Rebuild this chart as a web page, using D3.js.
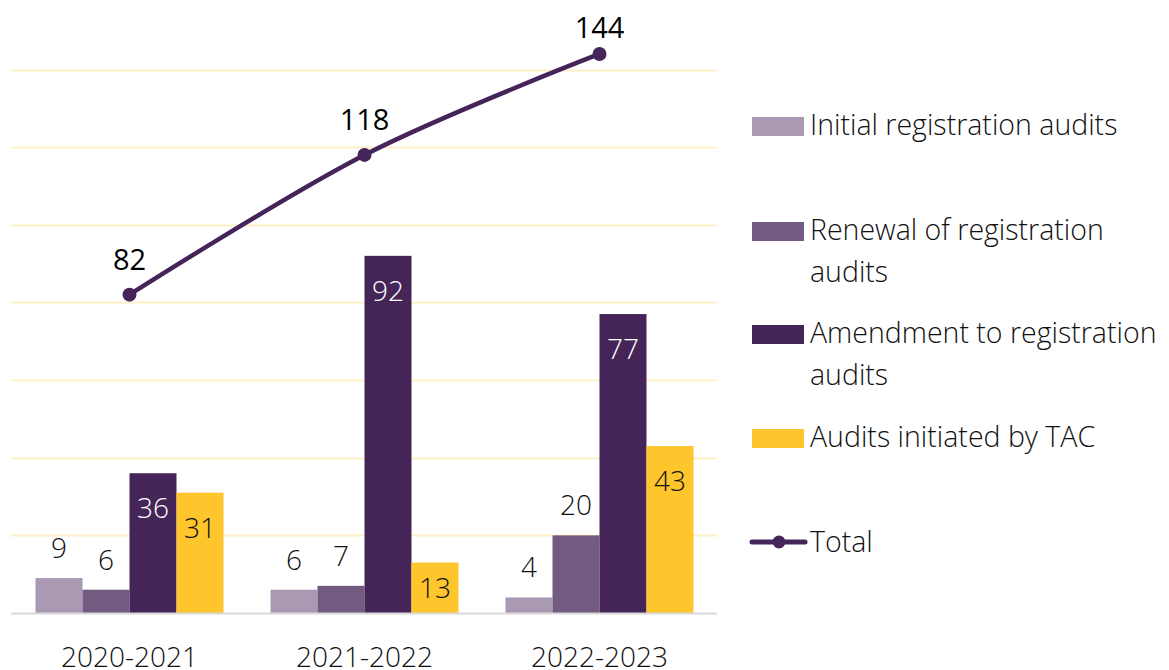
<!DOCTYPE html>
<html>
<head>
<meta charset="utf-8">
<script src="https://cdn.jsdelivr.net/npm/d3@7"></script>
<style>
  html, body { margin: 0; padding: 0; background: #ffffff; }
  svg { display: block; font-family: "Open Sans", "Noto Sans", sans-serif; }
</style>
</head>
<body>
<svg id="chart" width="1169" height="670"></svg>
<script>
// Audit counts per financial year
const years = ["2020-2021", "2021-2022", "2022-2023"];
const seriesNames = [
  "Initial registration audits",
  "Renewal of registration audits",
  "Amendment to registration audits",
  "Audits initiated by TAC"
];
const initialAudits   = [9, 6, 4];
const renewalAudits   = [6, 7, 20];
const amendmentAudits = [36, 92, 77];
const tacAudits       = [31, 13, 43];
const totalAudits     = [82, 118, 144];
const gridTicks       = [20, 40, 60, 80, 100, 120, 140];

const seriesValues = [initialAudits, renewalAudits, amendmentAudits, tacAudits];
const colors = ["#a999b2", "#735a81", "#452457", "#ffc52c"];
const labelInside = [false, false, true, true];
const labelColor = ["#111", "#111", "#ffffff", "#111"];
const lineColor = "#45245a";

const svg = d3.select("#chart");

const plot = { left: 12, right: 717, top: 69.5, bottom: 613 };

const x0 = d3.scaleBand()
  .domain(years)
  .range([plot.left, plot.right])
  .paddingInner(0.2)
  .paddingOuter(0.1);

const x1 = d3.scaleBand()
  .domain(d3.range(seriesNames.length))
  .range([0, x0.bandwidth()])
  .padding(0);

const y = d3.scaleLinear()
  .domain([0, 140])
  .range([plot.bottom, plot.top]);

// gridlines
svg.append("g")
  .selectAll("line")
  .data(gridTicks)
  .join("line")
  .attr("x1", plot.left - 1)
  .attr("x2", plot.right)
  .attr("y1", d => Math.round(y(d)) + 0.5)
  .attr("y2", d => Math.round(y(d)) + 0.5)
  .attr("stroke", "#fdefc6")
  .attr("stroke-width", 2);

// bars
const rows = [];
years.forEach((yr, i) => {
  seriesValues.forEach((vals, s) => rows.push({ year: yr, s, v: vals[i] }));
});

svg.append("g")
  .selectAll("rect")
  .data(rows)
  .join("rect")
  .attr("x", d => x0(d.year) + x1(d.s))
  .attr("y", d => y(d.v))
  .attr("width", x1.bandwidth())
  .attr("height", d => y(0) - y(d.v))
  .attr("fill", d => colors[d.s]);

// baseline axis
svg.append("line")
  .attr("x1", plot.left - 1)
  .attr("x2", plot.right)
  .attr("y1", plot.bottom + 0.5)
  .attr("y2", plot.bottom + 0.5)
  .attr("stroke", "#d9d9d9")
  .attr("stroke-width", 2);

// bar value labels
svg.append("g")
  .selectAll("text")
  .data(rows)
  .join("text")
  .attr("x", d => x0(d.year) + x1(d.s) + x1.bandwidth() / 2)
  .attr("y", d => {
    const top = y(d.v);
    const h = y(0) - top;
    if (!labelInside[d.s]) return top - 20;
    if (h < 70) return top + h / 2 + 10;
    return top + 45;
  })
  .attr("text-anchor", "middle")
  .attr("font-size", 28)
  .attr("font-weight", 300)
  .attr("fill", d => labelColor[d.s])
  .text(d => d.v);

// category axis labels
const xAxis = svg.append("g")
  .attr("transform", `translate(0,${plot.bottom})`)
  .call(d3.axisBottom(x0).tickSize(0).tickPadding(0));
xAxis.select(".domain").remove();
xAxis.selectAll("text")
  .attr("dy", null)
  .attr("y", 54)
  .attr("font-size", 28)
  .attr("font-weight", 300)
  .attr("font-family", "\"Open Sans\", \"Noto Sans\", sans-serif")
  .attr("fill", "#111");

// total line
const cx = d => x0(d) + x0.bandwidth() / 2;
const linePts = years.map((yr, i) => [cx(yr), y(totalAudits[i])]);
svg.append("path")
  .attr("d", d3.line().curve(d3.curveCardinal.tension(0))(linePts))
  .attr("fill", "none")
  .attr("stroke", lineColor)
  .attr("stroke-width", 4.5)
  .attr("stroke-linecap", "round");

svg.append("g")
  .selectAll("circle")
  .data(linePts)
  .join("circle")
  .attr("cx", d => d[0])
  .attr("cy", d => d[1])
  .attr("r", 7)
  .attr("fill", lineColor);

svg.append("g")
  .selectAll("text")
  .data(years)
  .join("text")
  .attr("x", d => cx(d))
  .attr("y", (d, i) => Math.max(38, y(totalAudits[i]) - 25))
  .attr("text-anchor", "middle")
  .attr("font-size", 29)
  .attr("fill", "#000")
  .text((d, i) => totalAudits[i]);

// legend
const legend = svg.append("g");
const legendItems = [
  { lines: ["Initial registration audits"], base: 135, s: 0 },
  { lines: ["Renewal of registration", "audits"], base: 240, s: 1 },
  { lines: ["Amendment to registration", "audits"], base: 343, s: 2 },
  { lines: ["Audits initiated by TAC"], base: 447, s: 3 }
];
legendItems.forEach(it => {
  legend.append("rect")
    .attr("x", 752)
    .attr("y", it.base - 18)
    .attr("width", 52)
    .attr("height", 19)
    .attr("fill", colors[it.s]);
  const t = legend.append("text")
    .attr("x", 810)
    .attr("y", it.base)
    .attr("font-size", 28.5)
    .attr("font-weight", 300)
    .attr("fill", "#111");
  it.lines.forEach((ln, k) => {
    t.append("tspan").attr("x", 810).attr("dy", k === 0 ? 0 : 42).text(ln);
  });
});
legend.append("line")
  .attr("x1", 752).attr("x2", 805)
  .attr("y1", 542).attr("y2", 542)
  .attr("stroke", lineColor)
  .attr("stroke-width", 5)
  .attr("stroke-linecap", "round");
legend.append("circle")
  .attr("cx", 779).attr("cy", 542).attr("r", 6.5)
  .attr("fill", lineColor);
legend.append("text")
  .attr("x", 810)
  .attr("y", 552)
  .attr("font-size", 28.5)
  .attr("font-weight", 300)
  .attr("fill", "#111")
  .text("Total");
</script>
</body>
</html>
